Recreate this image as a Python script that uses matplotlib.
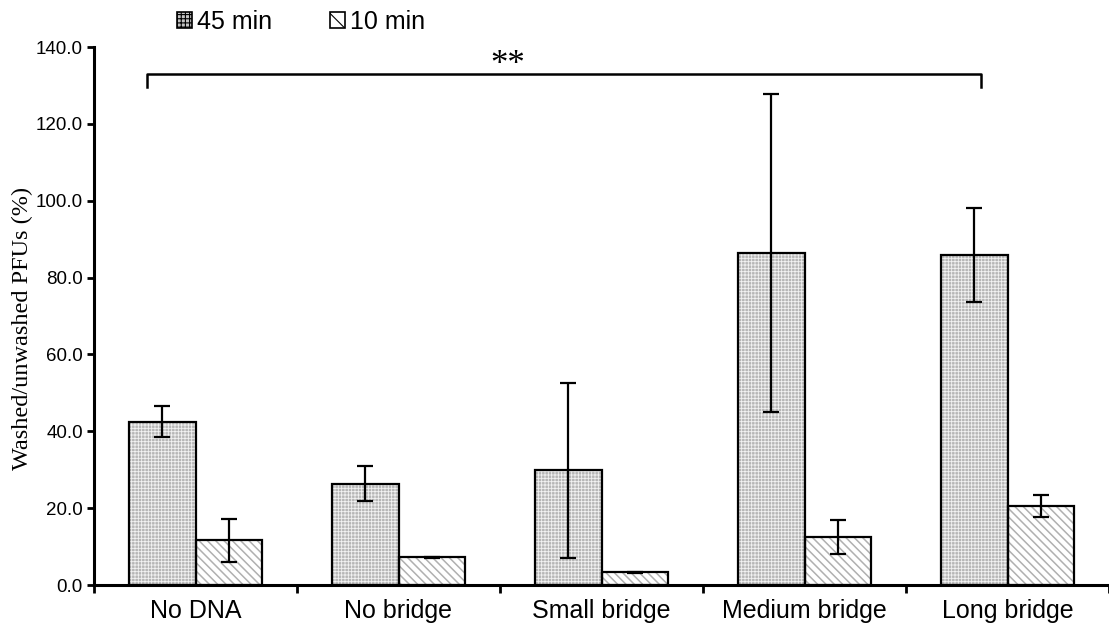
import matplotlib
matplotlib.use("Agg")
import matplotlib.pyplot as plt
import numpy as np
from matplotlib.patches import Patch

categories = ["No DNA", "No bridge", "Small bridge", "Medium bridge", "Long bridge"]
series_names = ["45 min", "10 min"]
vals_45 = [42.5, 26.4, 29.8, 86.4, 85.8]
err_45 = [4.1, 4.6, 22.8, 41.3, 12.2]
vals_10 = [11.6, 7.2, 3.3, 12.5, 20.5]
err_10 = [5.5, 0.2, 0.1, 4.5, 2.9]
yticks = [0, 20, 40, 60, 80, 100, 120, 140]
sig_label = "**"
ylabel = "Washed/unwashed PFUs (%)"

W, H = 1109, 632
fig = plt.figure(figsize=(W / 100, H / 100), dpi=100)
ax = fig.add_axes([94 / W, (H - 585) / H, (W - 94) / W, (585 - 47) / H])

x = np.arange(len(categories))
w = 0.33

# fills with hatch patterns
plt.rcParams['hatch.color'] = '#f2f2f2'
plt.rcParams['hatch.linewidth'] = 0.6
ax.bar(x - w / 2, vals_45, w, color='#b6b6b6', hatch='+' * 5, linewidth=0, zorder=2)
plt.rcParams['hatch.color'] = '#b0b0b0'
plt.rcParams['hatch.linewidth'] = 1.1
ax.bar(x + w / 2, vals_10, w, color='white', hatch='\\' * 4, linewidth=0, zorder=2)
# outlines
ax.bar(x - w / 2, vals_45, w, facecolor='none', edgecolor='black', linewidth=1.6, zorder=3)
ax.bar(x + w / 2, vals_10, w, facecolor='none', edgecolor='black', linewidth=1.6, zorder=3)

ax.errorbar(x - w / 2, vals_45, yerr=err_45, fmt='none', ecolor='black',
            elinewidth=1.6, capsize=6, capthick=1.6, zorder=4)
ax.errorbar(x + w / 2, vals_10, yerr=err_10, fmt='none', ecolor='black',
            elinewidth=1.6, capsize=6, capthick=1.6, zorder=4)

ax.set_xlim(-0.5, 4.475)
ax.set_ylim(0, 140)
ax.set_yticks(yticks)
ax.set_yticklabels([f"{v:.1f}" for v in yticks], fontsize=13.5, family='Liberation Sans')
ax.set_xticks(x)
ax.set_xticklabels(categories, fontsize=18, family='Liberation Sans')
ax.tick_params(axis='x', which='major', length=0, pad=10)
ax.set_xticks(np.arange(-0.5, 4.6, 1), minor=True)
ax.tick_params(axis='x', which='minor', length=6, width=2, direction='out')
ax.tick_params(axis='y', length=5, width=2, direction='out', pad=3)

for s in ['top', 'right']:
    ax.spines[s].set_visible(False)
for s in ['left', 'bottom']:
    ax.spines[s].set_linewidth(2.2)

ax.set_ylabel(ylabel, fontsize=17.5, family='Liberation Serif')
ax.yaxis.set_label_coords(-0.06, 0.476)

# significance bracket
bx0, bx1 = -0.24, 3.87
ax.plot([bx0, bx0, bx1, bx1], [129.5, 133, 133, 129.5], color='black', lw=1.8,
        clip_on=False, zorder=5)
ax.text(1.54, 130.8, sig_label, ha='center', va='bottom',
        fontsize=25, family='Liberation Serif')

# legend
plt.rcParams['hatch.color'] = '#909090'
plt.rcParams['hatch.linewidth'] = 0.8
h1 = Patch(facecolor='#c4c4c4', edgecolor='black', hatch='+' * 4, linewidth=1.2)
h2 = Patch(facecolor='white', edgecolor='black', hatch='\\' * 2, linewidth=1.2)
leg = fig.legend([h1, h2], series_names, loc='center left', bbox_to_anchor=(177 / W, 1 - 22 / H),
                 ncol=2, frameon=False, handlelength=0.6, handleheight=0.6,
                 handletextpad=0.2, columnspacing=2.3, borderaxespad=0, borderpad=0,
                 prop={'family': 'Liberation Sans', 'size': 18})

fig.savefig("out.png", dpi=100)
